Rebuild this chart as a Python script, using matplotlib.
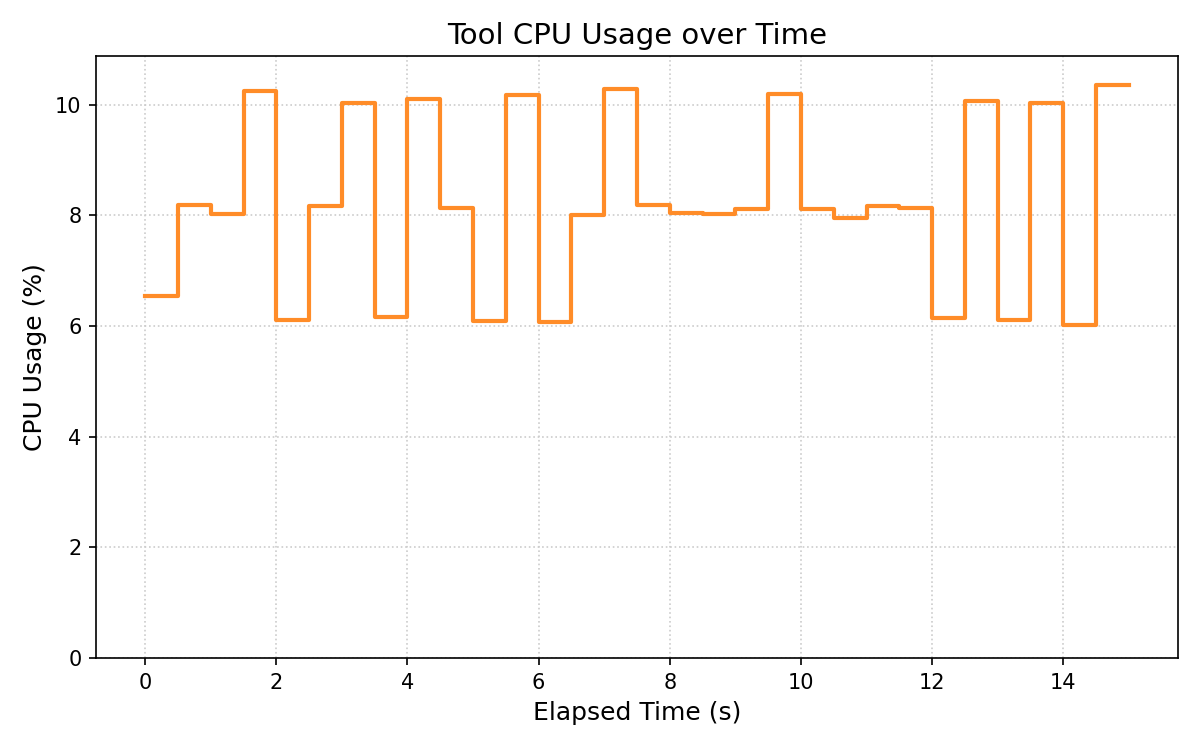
import matplotlib
matplotlib.use('Agg')
import matplotlib.pyplot as plt

# elapsed time samples (s) and tool CPU usage (%)
elapsed = [0.0, 0.5, 1.0, 1.5, 2.0, 2.5, 3.0, 3.5, 4.0, 4.5,
           5.0, 5.5, 6.0, 6.5, 7.0, 7.5, 8.0, 8.5, 9.0, 9.5,
           10.0, 10.5, 11.0, 11.5, 12.0, 12.5, 13.0, 13.5, 14.0, 14.5, 15.0]
cpu = [6.55, 8.19, 8.03, 10.25, 6.11, 8.17, 10.04, 6.17, 10.10, 8.13,
       6.09, 10.18, 6.07, 8.01, 10.29, 8.19, 8.05, 8.03, 8.12, 10.20,
       8.11, 7.96, 8.17, 8.14, 6.15, 10.07, 6.11, 10.04, 6.02, 10.36, 10.36]

fig, ax = plt.subplots(figsize=(8, 5), dpi=150)
ax.step(elapsed, cpu, where='post', color='#ff8c28', linewidth=2.0)
ax.set_ylim(0, max(cpu) * 1.05)
ax.set_title('Tool CPU Usage over Time', fontsize=14)
ax.set_xlabel('Elapsed Time (s)', fontsize=12)
ax.set_ylabel('CPU Usage (%)', fontsize=12)
ax.grid(True, linestyle=':', color='#cccccc', linewidth=0.8)
fig.subplots_adjust(left=0.08, right=0.9817, top=0.925, bottom=0.1227)
fig.savefig('out.png')
